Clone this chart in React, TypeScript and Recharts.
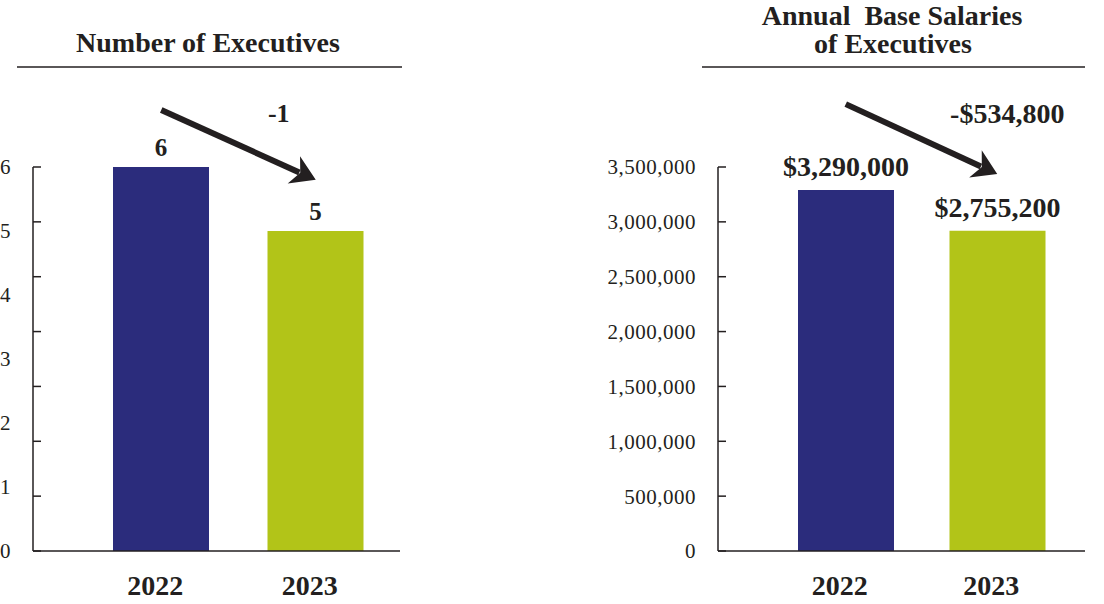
import React from "react";
import { BarChart, Bar, XAxis, YAxis, ReferenceLine, LabelList, Cell } from "recharts";

const years = ["2022", "2023"];

const executiveCounts = [6, 5];
const executiveLabels = ["6", "5"];
const countTicks = [0, 1, 2, 3, 4, 5, 6];
const countChange = "-1";

// bar heights as they stand in the source picture (the 2023 bar sits near 2.92M, above its label value)
const salaryBars = [3290000, 2920000];
const salaryLabels = ["$3,290,000", "$2,755,200"];
const salaryTicks = [0, 500000, 1000000, 1500000, 2000000, 2500000, 3000000, 3500000];
const salaryChange = "-$534,800";

// both panels carry the same 7-step tick marks on the axis line
const markTicks = [0, 1, 2, 3, 4, 5, 6, 7];

const barColors = ["#2B2C7C", "#B2C418"];
const ink = "#231F20";
const serif = "'Liberation Serif', 'Times New Roman', serif";

const arrowShape = (text: string, fontSize: number, tdx: number, tdy: number) => (p: any) => {
  const { x1, y1, x2, y2 } = p;
  const len = Math.hypot(x2 - x1, y2 - y1);
  const ux = (x2 - x1) / len;
  const uy = (y2 - y1) / len;
  const nx = -uy;
  const ny = ux;
  const back = 24;
  const notch = 17;
  const half = 15;
  const bx = x2 - ux * back;
  const by = y2 - uy * back;
  const head = [
    [x2, y2],
    [bx + nx * half, by + ny * half],
    [x2 - ux * notch, y2 - uy * notch],
    [bx - nx * half, by - ny * half],
  ]
    .map((q) => q.join(","))
    .join(" ");
  return (
    <g>
      <line x1={x1} y1={y1} x2={x2 - ux * (notch + 1)} y2={y2 - uy * (notch + 1)} stroke={ink} strokeWidth={6} />
      <polygon points={head} fill={ink} />
      <text x={x2 + tdx} y={y2 + tdy} textAnchor="middle" fill={ink} fontSize={fontSize} fontWeight="bold" fontFamily={serif}>
        {text}
      </text>
    </g>
  );
};

interface PanelProps {
  left: number;
  width: number;
  axisWidth: number;
  marginRight: number;
  pad: { left: number; right: number };
  values: number[];
  labels: string[];
  ticks: number[];
  tickFormat: (v: number) => string;
  tickMargin: number;
  labelSize: number;
  labelOffset: number;
  arrowFrom: number;
  arrowTo: number;
  change: string;
  changeSize: number;
  changeDx: number;
  changeDy: number;
}

function Panel(p: PanelProps) {
  const data = years.map((year, i) => ({ year, value: p.values[i], label: p.labels[i] }));
  const top = p.ticks[p.ticks.length - 1];
  return (
    <div style={{ position: "absolute", left: p.left, top: 0 }}>
      <BarChart width={p.width} height={604} data={data} margin={{ top: 167, right: p.marginRight, bottom: 0, left: 0 }}>
        <XAxis
          dataKey="year"
          height={53}
          padding={p.pad}
          axisLine={{ stroke: ink, strokeWidth: 1.5 }}
          tickLine={false}
          tickSize={0}
          tickMargin={24}
          tick={{ fill: ink, fontSize: 28, fontWeight: "bold", fontFamily: serif, dx: -6 }}
        />
        <YAxis
          yAxisId="value"
          type="number"
          domain={[0, top]}
          ticks={p.ticks}
          interval={0}
          width={p.axisWidth}
          axisLine={false}
          tickLine={false}
          tickSize={0}
          tickMargin={p.tickMargin}
          tickFormatter={p.tickFormat}
          tick={{ fill: ink, fontSize: 21, fontFamily: serif, letterSpacing: 0.5 }}
        />
        <YAxis
          yAxisId="marks"
          type="number"
          domain={[0, 7]}
          allowDataOverflow
          ticks={markTicks}
          interval={0}
          mirror
          tickSize={8}
          tickFormatter={() => ""}
          axisLine={{ stroke: ink, strokeWidth: 1.5 }}
          tickLine={{ stroke: ink, strokeWidth: 1.5 }}
        />
        <Bar yAxisId="value" dataKey="value" barSize={96} isAnimationActive={false}>
          {data.map((d, i) => (
            <Cell key={d.year} fill={barColors[i]} />
          ))}
          <LabelList
            dataKey="label"
            position="top"
            offset={p.labelOffset}
            fill={ink}
            fontSize={p.labelSize}
            fontWeight="bold"
            fontFamily={serif}
          />
        </Bar>
        <ReferenceLine
          yAxisId="value"
          ifOverflow="visible"
          segment={[
            { x: years[0], y: p.arrowFrom },
            { x: years[1], y: p.arrowTo },
          ]}
          shape={arrowShape(p.change, p.changeSize, p.changeDx, p.changeDy)}
        />
      </BarChart>
    </div>
  );
}

export default function App() {
  return (
    <div style={{ position: "absolute", left: 0, top: 0, width: 1104, height: 604, background: "#fff", fontFamily: serif }}>
      <svg width={1104} height={80} style={{ position: "absolute", left: 0, top: 0 }}>
        <g fill={ink} fontFamily={serif} fontWeight="bold" fontSize={28} textAnchor="middle">
          <text x={208} y={52}>Number of Executives</text>
          <text x={892} y={25} style={{ whiteSpace: "pre" }}>
            Annual  Base Salaries
          </text>
          <text x={893} y={53}>of Executives</text>
        </g>
        <line x1={17} y1={67} x2={402} y2={67} stroke={ink} strokeWidth={1.5} />
        <line x1={702} y1={67} x2={1085} y2={67} stroke={ink} strokeWidth={1.5} />
      </svg>
      <Panel
        left={0}
        width={420}
        axisWidth={33}
        marginRight={20}
        pad={{ left: 51, right: 7 }}
        values={executiveCounts}
        labels={executiveLabels}
        ticks={countTicks}
        tickFormat={(v) => String(v)}
        tickMargin={22}
        labelSize={25}
        labelOffset={11}
        arrowFrom={6.89}
        arrowTo={5.8}
        change={countChange}
        changeSize={26}
        changeDx={-37}
        changeDy={-58}
      />
      <Panel
        left={600}
        width={504}
        axisWidth={118}
        marginRight={19}
        pad={{ left: 52, right: 12 }}
        values={salaryBars}
        labels={salaryLabels}
        ticks={salaryTicks}
        tickFormat={(v) => v.toLocaleString("en-US")}
        tickMargin={22}
        labelSize={28}
        labelOffset={14}
        arrowFrom={4073000}
        arrowTo={3436000}
        change={salaryChange}
        changeSize={28}
        changeDx={10}
        changeDy={-51}
      />
    </div>
  );
}
